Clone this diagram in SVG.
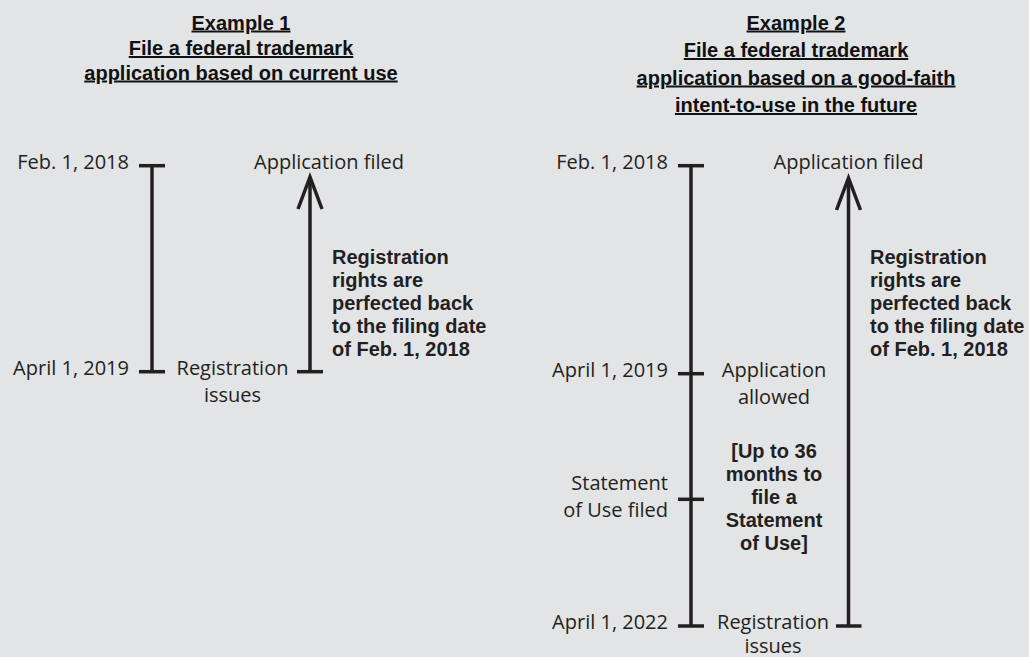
<svg xmlns="http://www.w3.org/2000/svg" width="1029" height="657" viewBox="0 0 1029 657">
<style>
.bg{fill:#e3e4e6}
.t{font-family:"Open Sans","Liberation Sans",sans-serif;font-size:20px;fill:#231f20}
.b{font-family:"Liberation Sans",Arial,sans-serif;font-size:20px;font-weight:bold;fill:#231f20}
.ti{font-family:"Liberation Sans",Arial,sans-serif;font-size:20px;font-weight:bold;fill:#111;text-decoration:underline;text-anchor:middle}
.r{text-anchor:end}
.m{text-anchor:middle}
.ln{stroke:#231f20;stroke-width:3.5;fill:none}
.ah{stroke:#231f20;stroke-width:3.5;fill:none;stroke-linejoin:miter;stroke-miterlimit:10}
</style>
<rect class="bg" x="0" y="0" width="1029" height="657"/>
<g id="title1">
<text class="ti" x="241" y="29.5">Example 1</text>
<text class="ti" x="241" y="55">File a federal trademark</text>
<text class="ti" x="241" y="79.5">application based on current use</text>
</g>
<g id="title2">
<text class="ti" x="796" y="29.5">Example 2</text>
<text class="ti" x="796" y="57">File a federal trademark</text>
<text class="ti" x="796" y="84.5">application based on a good-faith</text>
<text class="ti" x="796" y="112">intent-to-use in the future</text>
</g>
<g id="connectors">
<line class="ln" x1="152" y1="165.7" x2="152" y2="371.7"/>
<line class="ln" x1="139" y1="165.7" x2="165" y2="165.7"/>
<line class="ln" x1="139" y1="371.7" x2="165" y2="371.7"/>
<line class="ln" x1="310" y1="180" x2="310" y2="371.7"/>
<line class="ln" x1="297" y1="371.7" x2="323" y2="371.7"/>
<polyline class="ah" points="298,209 310,177 322,209"/>
<line class="ln" x1="691" y1="165.7" x2="691" y2="626"/>
<line class="ln" x1="678" y1="165.7" x2="704" y2="165.7"/>
<line class="ln" x1="678" y1="373.7" x2="704" y2="373.7"/>
<line class="ln" x1="678" y1="499.3" x2="704" y2="499.3"/>
<line class="ln" x1="678" y1="626" x2="704" y2="626"/>
<line class="ln" x1="848.5" y1="181" x2="848.5" y2="626"/>
<line class="ln" x1="836" y1="626" x2="861.5" y2="626"/>
<polyline class="ah" points="836.5,210 848.5,178 860.5,210"/>
</g>
<g id="ex1-feb">
<text class="t r" x="129" y="168.5">Feb. 1, 2018</text>
</g>
<g id="ex1-filed">
<text class="t m" x="329" y="168.5">Application filed</text>
</g>
<g id="ex1-april">
<text class="t r" x="129" y="374.5">April 1, 2019</text>
</g>
<g id="ex1-registration">
<text class="t m" x="232.5" y="374.5">Registration</text>
<text class="t m" x="232.5" y="402">issues</text>
</g>
<g id="ex1-rights">
<text class="b" x="332" y="264">Registration</text>
<text class="b" x="332" y="287">rights are</text>
<text class="b" x="332" y="310">perfected back</text>
<text class="b" x="332" y="333">to the filing date</text>
<text class="b" x="332" y="356">of Feb. 1, 2018</text>
</g>
<g id="ex2-feb">
<text class="t r" x="668" y="168.5">Feb. 1, 2018</text>
</g>
<g id="ex2-filed">
<text class="t m" x="848.5" y="168.5">Application filed</text>
</g>
<g id="ex2-april2019">
<text class="t r" x="668" y="376.5">April 1, 2019</text>
</g>
<g id="ex2-allowed">
<text class="t m" x="774" y="376.5">Application</text>
<text class="t m" x="774" y="404">allowed</text>
</g>
<g id="ex2-36months">
<text class="b m" x="774" y="457.5">[Up to 36</text>
<text class="b m" x="774" y="480.5">months to</text>
<text class="b m" x="774" y="503.5">file a</text>
<text class="b m" x="774" y="526.5">Statement</text>
<text class="b m" x="774" y="549.5">of Use]</text>
</g>
<g id="ex2-sou">
<text class="t r" x="668" y="490">Statement</text>
<text class="t r" x="668" y="517">of Use filed</text>
</g>
<g id="ex2-april2022">
<text class="t r" x="668" y="628.5">April 1, 2022</text>
</g>
<g id="ex2-registration">
<text class="t m" x="773" y="628.5">Registration</text>
<text class="t m" x="773" y="653">issues</text>
</g>
<g id="ex2-rights">
<text class="b" x="870" y="264">Registration</text>
<text class="b" x="870" y="287">rights are</text>
<text class="b" x="870" y="310">perfected back</text>
<text class="b" x="870" y="333">to the filing date</text>
<text class="b" x="870" y="356">of Feb. 1, 2018</text>
</g>
</svg>
